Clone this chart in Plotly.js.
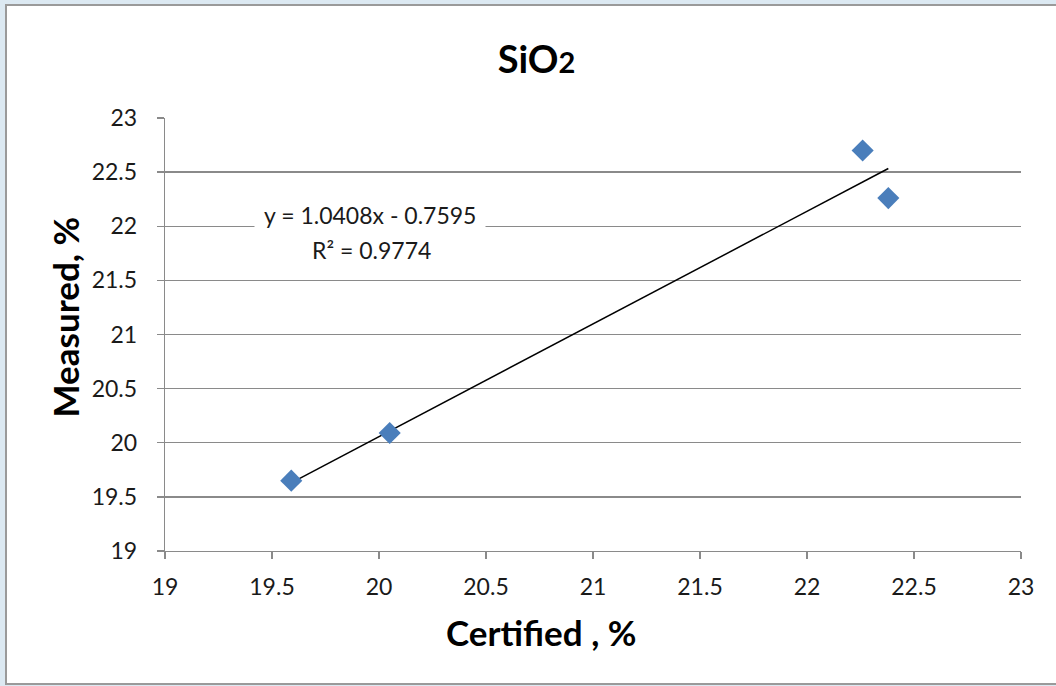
<!DOCTYPE html>
<html>
<head>
<meta charset="utf-8">
<script src="https://cdn.plot.ly/plotly-3.0.1.min.js"></script>
<style>
  html, body { margin: 0; padding: 0; background: #dce9f2; width: 1056px; height: 686px; overflow: hidden; }
  #frame { position: absolute; left: 5px; top: 4px; width: 1060px; height: 677px; border: 2px solid #9a9a9a; background: #ffffff; }
  #chart { position: absolute; left: 0; top: 0; width: 1049px; height: 677px; }
</style>
</head>
<body>
<div id="frame"><div id="chart"></div></div>
<script>
// Certified vs measured SiO2 content, %
const certified = [19.59, 20.05, 22.26, 22.38];
const measured  = [19.65, 20.09, 22.70, 22.26];

// Linear trendline coefficients and fit quality
const slope = 1.0408;
const intercept = -0.7595;
const rSquared = 0.9774;

const axisTicks = [19, 19.5, 20, 20.5, 21, 21.5, 22, 22.5, 23];
const axisTickText = ['19', '19.5', '20', '20.5', '21', '21.5', '22', '22.5', '23'];

const xMin = Math.min(...certified);
const xMax = Math.max(...certified);
const trendX = [xMin, xMax];
const trendY = trendX.map(x => slope * x + intercept);

const font = 'Lato, "Open Sans", sans-serif';

const traces = [
  {
    x: trendX, y: trendY, mode: 'lines', type: 'scatter',
    line: { color: '#000000', width: 1.5 },
    hoverinfo: 'skip', showlegend: false
  },
  {
    x: certified, y: measured, mode: 'markers', type: 'scatter',
    marker: { symbol: 'diamond', size: 17, color: '#4a7ebb', line: { width: 0 } },
    showlegend: false
  }
];

const axisCommon = {
  range: [19, 23],
  tickvals: axisTicks,
  ticktext: axisTickText,
  ticks: 'outside',
  ticklen: 7,
  tickwidth: 1.3,
  tickcolor: '#8a8a8a',
  showline: true,
  linecolor: '#8a8a8a',
  linewidth: 1.3,
  zeroline: false,
  tickfont: { family: font, size: 23, color: '#1a1a1a' },
  fixedrange: true
};

const layout = {
  width: 1049,
  height: 677,
  margin: { l: 158, r: 35, t: 112, b: 132 },
  paper_bgcolor: 'rgba(0,0,0,0)',
  plot_bgcolor: '#ffffff',
  title: {
    text: 'SiO<span style="font-size:29px">2</span>',
    font: { family: font, size: 38, color: '#000000', weight: 'bold' },
    x: 0.5048, xanchor: 'center',
    y: 0.920, yanchor: 'middle', yref: 'container'
  },
  xaxis: Object.assign({}, axisCommon, { showgrid: false, ticklabelstandoff: 8 }),
  yaxis: Object.assign({}, axisCommon, {
    showgrid: true, gridcolor: '#8a8a8a', gridwidth: 1.3, ticklabelstandoff: 15
  }),
  annotations: [
    {
      text: 'y = ' + slope.toFixed(4) + 'x - ' + Math.abs(intercept).toFixed(4),
      xref: 'x', yref: 'y', x: 19.958, y: 22.104,
      xanchor: 'center', yanchor: 'middle', showarrow: false,
      bgcolor: '#ffffff', borderpad: 9,
      font: { family: font, size: 23, color: '#1a1a1a' }
    },
    {
      text: 'R² = ' + rSquared.toFixed(4),
      xref: 'x', yref: 'y', x: 19.963, y: 21.781,
      xanchor: 'center', yanchor: 'middle', showarrow: false,
      font: { family: font, size: 23, color: '#1a1a1a' }
    },
    {
      text: 'Certified , %',
      xref: 'paper', yref: 'paper', x: 0.44, y: -0.186,
      xanchor: 'center', yanchor: 'middle', showarrow: false,
      font: { family: font, size: 35, color: '#000000', weight: 'bold' }
    },
    {
      text: 'Measured, %',
      xref: 'paper', yref: 'paper', x: -0.1157, y: 0.5416,
      xanchor: 'center', yanchor: 'middle', showarrow: false, textangle: -90,
      font: { family: font, size: 35, color: '#000000', weight: 'bold' }
    }
  ],
  showlegend: false
};

Plotly.newPlot('chart', traces, layout, { displayModeBar: false, staticPlot: true });
</script>
</body>
</html>
